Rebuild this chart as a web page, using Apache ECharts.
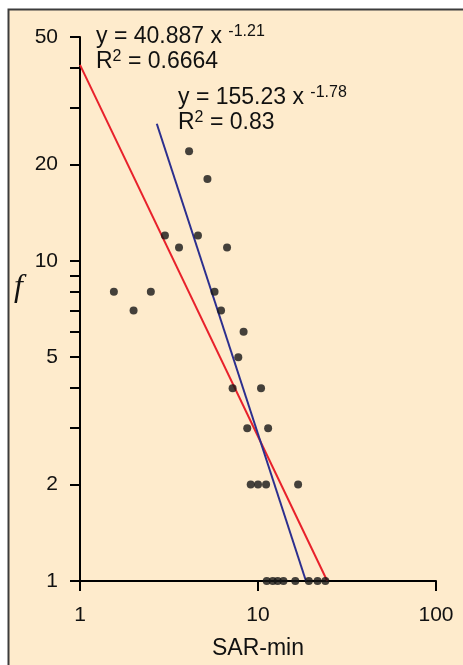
<!DOCTYPE html>
<html>
<head>
<meta charset="utf-8">
<script src="https://cdn.jsdelivr.net/npm/echarts@6/dist/echarts.min.js"></script>
<style>
  html, body { margin: 0; padding: 0; background: #fff; }
  #chart { width: 463px; height: 665px; }
</style>
</head>
<body>
<div id="chart"></div>
<script>
// SAR-min (x) vs frequency f (y)
const sarMin = [1.55, 2.0, 2.5, 3.0, 3.6, 4.1, 4.6, 5.2, 5.7, 6.2, 6.7, 7.2, 7.75, 8.3, 8.7, 10.4, 11.4,
                9.1, 10.0, 11.1, 16.8,
                11.2, 12.1, 12.9, 13.9, 16.2, 19.3, 21.6, 23.9];
const freq = [8, 7, 8, 12, 11, 22, 12, 18, 8, 7, 11, 4, 5, 6, 3, 4, 3,
              2, 2, 2, 2,
              1, 1, 1, 1, 1, 1, 1, 1];

// fitted power-law lines (end points as drawn)
const fitAll = [[1, 40.9], [24.5, 1]];
const fitSteep = [[2.7, 26.8], [18.6, 1]];

const yLabelTicks = [1, 2, 5, 10, 20, 50];
const yMinorTicks = [1, 2, 3, 4, 5, 6, 7, 8, 9, 10, 20, 30, 40, 50];

const chart = echarts.init(document.getElementById('chart'));

const points = sarMin.map((x, i) => [x, freq[i]]);

const eqRich = {
    b: { fontSize: 23, fontFamily: 'Liberation Sans', color: '#111', lineHeight: 26 },
    s: { fontSize: 16, fontFamily: 'Liberation Sans', color: '#111', verticalAlign: 'top', lineHeight: 26 }
};

function eqText(left, top, txt) {
    return {
        type: 'text',
        left: left,
        top: top,
        style: { text: txt, rich: eqRich, fill: '#111' }
    };
}

const option = {
    backgroundColor: '#ffffff',
    animation: false,
    grid: { left: 80, right: 27, top: 37, bottom: 79.5 },
    xAxis: {
        type: 'log',
        logBase: 10,
        min: 1,
        max: 100,
        name: 'SAR-min',
        nameLocation: 'middle',
        nameGap: 56,
        nameTextStyle: { fontSize: 23, fontFamily: 'Liberation Sans', color: '#111' },
        axisLine: { lineStyle: { color: '#000', width: 2 } },
        axisTick: { show: true, length: 10, lineStyle: { color: '#000', width: 2 } },
        minorTick: { show: false },
        axisLabel: { fontSize: 21, fontFamily: 'Liberation Sans', color: '#111', margin: 24 },
        splitLine: { show: false }
    },
    yAxis: {
        type: 'log',
        logBase: 10,
        min: 1,
        max: 50,
        axisLine: { lineStyle: { color: '#000', width: 2 } },
        axisTick: { show: true, length: 10, customValues: yMinorTicks, lineStyle: { color: '#000', width: 2 } },
        axisLabel: { fontSize: 21, fontFamily: 'Liberation Sans', color: '#111', margin: 22, customValues: yLabelTicks },
        splitLine: { show: false }
    },
    graphic: [
        {
            type: 'rect',
            z: -10,
            shape: { x: 8.5, y: 9.5, width: 500, height: 700 },
            style: { fill: '#feebcc', stroke: '#3c3c3c', lineWidth: 2 }
        },
        eqText(96, 24, '{b|y = 40.887 x }{s|-1.21}'),
        eqText(96, 49, '{b|R}{s|2}{b| = 0.6664}'),
        eqText(178, 85, '{b|y = 155.23 x }{s|-1.78}'),
        eqText(178, 110, '{b|R}{s|2}{b| = 0.83}'),
        {
            type: 'text',
            left: 14,
            top: 272,
            style: { text: 'f', fontSize: 32, fontStyle: 'italic', fontFamily: 'Liberation Serif', fill: '#111' }
        }
    ],
    series: [
        {
            type: 'line',
            data: fitAll,
            symbol: 'none',
            lineStyle: { color: '#e8212b', width: 2 },
            z: 2
        },
        {
            type: 'line',
            data: fitSteep,
            symbol: 'none',
            lineStyle: { color: '#2c2f8e', width: 2 },
            z: 2
        },
        {
            type: 'scatter',
            data: points,
            symbolSize: 8,
            itemStyle: { color: '#151515' },
            z: 3
        }
    ]
};

chart.setOption(option);
</script>
</body>
</html>
